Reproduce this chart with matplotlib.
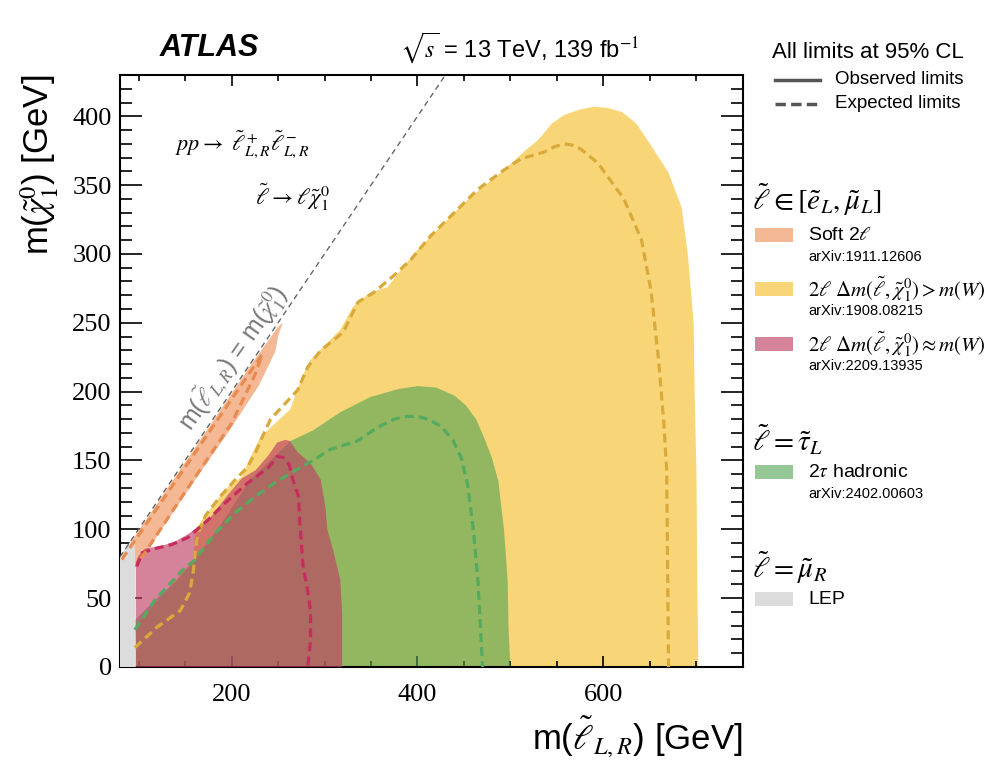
import matplotlib
matplotlib.use('Agg')
import matplotlib.pyplot as plt
from matplotlib.patches import Rectangle
from matplotlib.lines import Line2D
from matplotlib.ticker import MultipleLocator

plt.rcParams['font.family'] = ['Liberation Sans', 'DejaVu Sans']
plt.rcParams['mathtext.fontset'] = 'stix'

# contours: m(slepton) [GeV], m(chi10) [GeV]
# 2l Delta m > m(W), observed / expected
yel_obs_x = [97, 97, 130, 159, 161, 172, 182, 193, 211, 220, 231, 263, 276, 285, 317, 331, 349, 368, 385, 400,
             422, 450, 471, 493, 514, 530, 545, 558, 575, 590, 605, 620, 635, 651, 670, 684, 691, 697, 698,
             700, 701, 702]
yel_obs_y = [0, 30, 55, 78, 100, 110, 119, 129, 138, 152, 167, 187, 211, 223, 245, 262, 272, 276, 291, 303,
             318, 337, 349, 361, 374, 383, 395, 401, 405, 407, 406, 403, 395, 379, 359, 334, 298, 250, 201,
             143, 60, 0]
yel_exp_x = [96, 120, 145, 155, 159, 161, 164, 172, 188, 204, 217, 226, 233, 242, 271, 282, 296, 320,
             336, 353, 374, 393, 414, 450, 465, 493, 511, 536, 548, 558, 567, 576, 594, 622, 641, 651, 659,
             665, 668, 670]
yel_exp_y = [14, 29, 41, 54, 70, 85, 97, 110, 124, 136, 145, 156, 167, 180, 201, 218, 230, 243,
             265, 272, 284, 296, 313, 337, 347, 361, 369, 374, 378, 380, 379, 376, 366, 340, 310, 274, 225,
             177, 143, 0]

# 2 tau hadronic, observed / expected
grn_obs_x = [97, 96, 120, 140, 161, 190, 220, 245, 263, 288, 317, 349, 380, 400, 420, 440, 452, 463, 472,
             480, 487, 493, 497, 498, 500]
grn_obs_y = [0, 34, 50, 62, 78, 105, 136, 152, 164, 172, 185, 196, 202, 204, 203, 197, 190, 180, 166,
             152, 135, 100, 63, 27, 0]
grn_exp_x = [96, 118, 147, 161, 182, 204, 226, 247, 269, 290, 306, 335, 357, 375, 388, 400, 411, 425, 438,
             447, 454, 460, 465, 468, 470]
grn_exp_y = [27, 49, 70, 78, 97, 112, 124, 134, 143, 151, 158, 164, 174, 180, 182, 182, 180, 175, 165,
             152, 132, 100, 63, 25, 0]

# 2l Delta m ~ m(W), observed / expected
pnk_obs_x = [97, 97, 100, 107, 125, 139, 152, 163, 177, 182, 196, 211, 226, 240, 249, 258, 263, 271,
             285, 296, 301, 303, 310, 317, 319, 319]
pnk_obs_y = [0, 76, 81, 86, 88, 91, 96, 101, 108, 113, 125, 137, 143, 154, 163, 165, 164, 156,
             148, 136, 116, 100, 83, 63, 39, 0]
pnk_exp_x = [98, 104, 118, 136, 153, 175, 196, 218, 240, 249, 256, 262, 266, 272, 273, 274, 277, 282,
             285, 285, 282]
pnk_exp_y = [73, 83, 86, 89, 94, 107, 121, 134, 145, 153, 152, 147, 136, 124, 110, 100, 73, 55,
             40, 20, 0]

# soft 2l, observed band and expected contour
soft_obs_x = [80, 150, 220, 250, 255, 250, 247, 229, 200, 164, 125, 100, 80]
soft_obs_y = [79, 148.5, 218.5, 247, 250, 240, 229, 204, 174, 139, 100, 75, 60]
soft_exp_x = [82, 150, 233, 225, 200, 150, 100]
soft_exp_y = [78, 145, 227, 212, 177, 127, 76]

# LEP
lep_x = [80, 80, 92, 94, 96, 96.5, 97]
lep_y = [0, 80, 92, 91.5, 88, 60, 0]

c_yel, c_yel_d = '#f8d678', '#d9a93b'
c_grn, c_grn_d = '#50a350', '#55aa5f'
c_pnk, c_pnk_d = '#bf3f65', '#c62d5c'
c_soft, c_soft_d = '#f4b994', '#e98b50'
c_lep = '#dcdcdc'

fig = plt.figure(figsize=(9.98, 7.62), dpi=100)
ax = fig.add_axes([0.1202, 0.1247, 0.6242, 0.7769])

ax.fill(yel_obs_x, yel_obs_y, color=c_yel, lw=0, zorder=1)
ax.fill(grn_obs_x, grn_obs_y, color=c_grn, alpha=0.6, lw=0, zorder=2)
ax.fill(soft_obs_x, soft_obs_y, color=c_soft, lw=0, zorder=3)
ax.fill(pnk_obs_x, pnk_obs_y, color=c_pnk, alpha=0.65, lw=0, zorder=4)
ax.fill(lep_x, lep_y, color=c_lep, lw=0, zorder=5)

dash = dict(lw=2.3, dashes=(2.8, 1.6), zorder=6)
ax.plot(yel_exp_x, yel_exp_y, color=c_yel_d, **dash)
ax.plot(grn_exp_x, grn_exp_y, color=c_grn_d, **dash)
ax.plot(pnk_exp_x, pnk_exp_y, color=c_pnk_d, **dash)
ax.plot(soft_exp_x, soft_exp_y, color=c_soft_d, **dash)

# kinematic limit
ax.plot([80, 430], [80, 430], color='#666666', lw=1.0, dashes=(4, 3), zorder=7)
ax.text(201, 224, r'm($\tilde{\ell}_{L,R}$) = m($\tilde{\chi}_1^0$)', color='#777777', fontsize=18,
        rotation=55, rotation_mode='anchor', ha='center', va='center', zorder=8)

ax.text(139, 380, r'$pp \rightarrow\ \tilde{\ell}^+_{L,R}\tilde{\ell}^-_{L,R}$', fontsize=16, va='center')
ax.text(225, 341, r'$\tilde{\ell} \rightarrow \ell\tilde{\chi}_1^0$', fontsize=16.5, va='center')

ax.set_xlim(80, 750)
ax.set_ylim(0, 430)
ax.xaxis.set_major_locator(MultipleLocator(200))
ax.xaxis.set_minor_locator(MultipleLocator(50))
ax.yaxis.set_major_locator(MultipleLocator(50))
ax.yaxis.set_minor_locator(MultipleLocator(10))
ax.tick_params(axis='both', which='both', direction='in', top=True, right=True, width=1.2,
               labelfontfamily='Liberation Serif', labelsize=19)
ax.tick_params(axis='x', which='major', length=8, pad=12)
ax.tick_params(axis='x', which='minor', length=4)
ax.tick_params(axis='y', which='major', length=16, pad=6)
ax.tick_params(axis='y', which='minor', length=8.5)
for s in ax.spines.values():
    s.set_linewidth(1.5)

ax.set_xlabel(r'm($\tilde{\ell}_{L,R}$) [GeV]', fontsize=25, loc='right')
ax.xaxis.set_label_coords(1.0, -0.08)
ax.set_ylabel(r'm($\tilde{\chi}_1^0$) [GeV]', fontsize=25, loc='top')
ax.yaxis.set_label_coords(-0.094, 1.0)

# header
fig.text(0.160, 0.937, 'ATLAS', fontsize=22, weight='bold', style='italic', va='center')
fig.text(0.401, 0.937, r'$\sqrt{s}$ = 13 TeV, 139 fb$^{-1}$', fontsize=17, va='center')

# right hand side legend
def px(x, y):
    return x / 998, 1 - y / 762

fig.text(*px(772, 53), 'All limits at 95% CL', fontsize=16, va='center')
fig.add_artist(Line2D([775 / 998, 820 / 998], [1 - 80 / 762] * 2, color='#555555', lw=2.5))
fig.add_artist(Line2D([775 / 998, 820 / 998], [1 - 104 / 762] * 2, color='#555555', lw=2.5, dashes=(3, 1.5)))
fig.text(*px(835, 80), 'Observed limits', fontsize=13.5, va='center')
fig.text(*px(835, 104), 'Expected limits', fontsize=13.5, va='center')

headers = [r'$\tilde{\ell} \in [\tilde{e}_L, \tilde{\mu}_L]$', r'$\tilde{\ell} = \tilde{\tau}_L$',
           r'$\tilde{\ell} = \tilde{\mu}_R$']
header_y = [200, 440, 568]
for h, y in zip(headers, header_y):
    fig.text(*px(752, y), h, fontsize=21, va='center')

entries = ['Soft 2$\\ell$', r'2$\ell$ $\Delta m(\tilde{\ell}, \tilde{\chi}_1^0) > m(W)$',
           r'2$\ell$ $\Delta m(\tilde{\ell}, \tilde{\chi}_1^0) \approx m(W)$', r'2$\tau$ hadronic', 'LEP']
refs = ['arXiv:1911.12606', 'arXiv:1908.08215', 'arXiv:2209.13935', 'arXiv:2402.00603', '']
entry_col = [c_soft, c_yel, c_pnk, c_grn, c_lep]
entry_alpha = [1, 1, 0.65, 0.6, 1]
entry_y = [235, 289, 344, 472, 599]
for lab, ref, c, a, y in zip(entries, refs, entry_col, entry_alpha, entry_y):
    fig.add_artist(Rectangle((755 / 998, 1 - (y + 7) / 762), 38 / 998, 14 / 762,
                             color=c, alpha=a, lw=0, transform=fig.transFigure))
    if 'Delta' in lab:
        fig.text(*px(808, y), lab, fontsize=15, va='center', family='STIXGeneral')
    else:
        fig.text(*px(808, y), lab, fontsize=14, va='center')
    if ref:
        fig.text(*px(808, y + 22), ref, fontsize=10.5, va='center')

fig.savefig('out.png', dpi=100)
